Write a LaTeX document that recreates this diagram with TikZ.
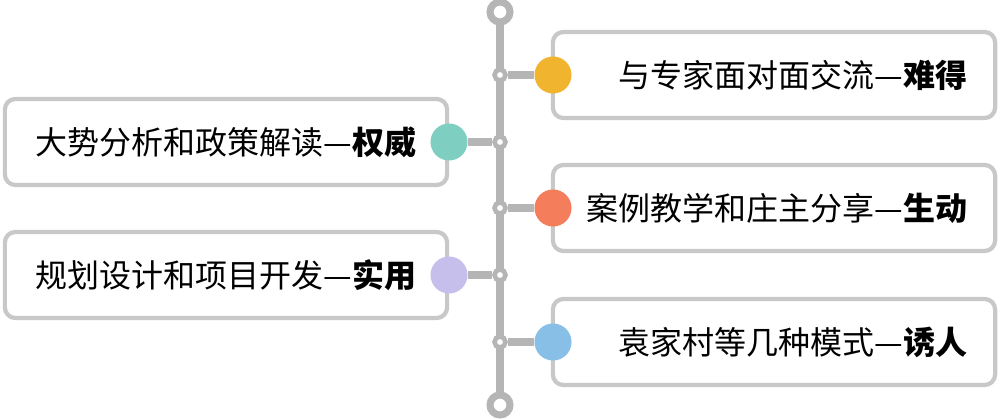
\documentclass[tikz,border=0pt]{standalone}
\usepackage{fontspec}
\newfontfamily\cjk{Noto Sans CJK SC}
\usetikzlibrary{positioning}
\definecolor{linegray}{HTML}{B5B5B5}
\definecolor{boxgray}{HTML}{C8C8C8}
\tikzset{
  textbox/.style={draw=boxgray,line width=1.2pt,rounded corners=3pt,minimum width=4.42cm,minimum height=0.86cm},
  dot/.style={circle,fill=#1,minimum size=0.37cm,inner sep=0pt},
  knot/.style={circle,draw=linegray,fill=white,line width=1.3pt,minimum size=0.11cm,inner sep=0pt},
  endknot/.style={circle,draw=linegray,fill=white,line width=2pt,minimum size=0.2cm,inner sep=0pt},
  label/.style={font=\cjk\fontsize{9.1pt}{11pt}\selectfont,anchor=east,inner sep=0pt}
}
\begin{document}
\begin{tikzpicture}[x=0.01cm,y=-0.01cm]
  \useasboundingbox (0,0) rectangle (1000,419);
  % spine
  \coordinate (top) at (500,12);
  \coordinate (bottom) at (500,405);
  \draw[linegray,line width=2pt] (top) -- (bottom);
  % boxes
  \node[textbox] (b1) at (774,75) {};
  \node[textbox] (b2) at (226,142) {};
  \node[textbox] (b3) at (774,208) {};
  \node[textbox] (b4) at (226,275) {};
  \node[textbox] (b5) at (774,342) {};
  % knots and dots
  \foreach \n/\y/\x/\c in {1/75/553/F0B42F,2/142/449/7ECFC1,3/208/553/F47D5B,4/275/449/C6BFEB,5/342/553/88BFE6}{
    \definecolor{dc\n}{HTML}{\c}
    \node[knot] (k\n) at (500,\y) {};
    \node[dot=dc\n] (d\n) at (\x,\y) {};
    \draw[linegray,line width=2pt] (k\n) -- (d\n);
  }
  \node[endknot] (t) at (top) {};
  \node[endknot] (e) at (bottom) {};
  % texts
  \node[label] at (968,75) {与专家面对面交流—\textbf{难得}};
  \node[label] at (417,142) {大势分析和政策解读—\textbf{权威}};
  \node[label] at (968,208) {案例教学和庄主分享—\textbf{生动}};
  \node[label] at (417,275) {规划设计和项目开发—\textbf{实用}};
  \node[label] at (968,342) {袁家村等几种模式—\textbf{诱人}};
\end{tikzpicture}
\end{document}
